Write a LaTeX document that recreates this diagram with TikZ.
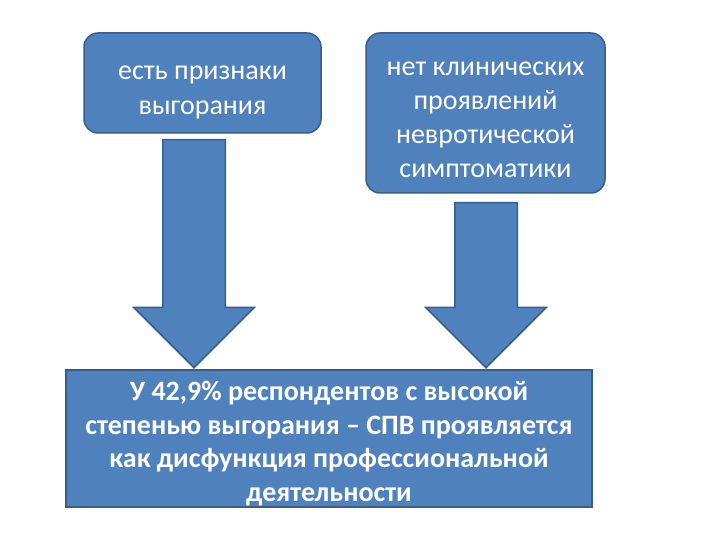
\documentclass[tikz,border=0pt]{standalone}
\usepackage{fontspec}
\setmainfont{Carlito}
\usepackage{xcolor}
\usetikzlibrary{shapes.arrows}
\definecolor{slideblue}{HTML}{4F81BD}
\definecolor{slideedge}{HTML}{385D8A}

\begin{document}
\begin{tikzpicture}[x=1pt, y=-1pt,
    sign/.style={draw=slideedge, line width=1.5pt, fill=slideblue, rounded corners=14pt, inner sep=0pt},
    outcome/.style={draw=slideedge, line width=1.5pt, fill=slideblue, inner sep=0pt},
    signtext/.style={text=white, align=center, inner sep=0pt, font=\fontsize{28}{34}\selectfont},
    outcometext/.style={text=white, align=center, inner sep=0pt, font=\bfseries\fontsize{28}{33.5}\selectfont},
    downarrow/.style={single arrow, draw=slideedge, line width=1.5pt, fill=slideblue,
        rotate=-90, anchor=tail, minimum width=119pt, single arrow head extend=29pt,
        inner xsep=0pt, inner ysep=30.5pt}]
    \useasboundingbox (0,0) rectangle (720,540);
    % top boxes
    \node[sign, minimum width=237pt, minimum height=100pt] (burnout) at (202.5,83) {};
    \node[signtext, font=\fontsize{28}{35}\selectfont, yshift=-9.5pt] (burnouttext) at (burnout.center)
        {есть признаки\\выгорания};
    \node[sign, minimum width=239pt, minimum height=160pt] (noneurosis) at (485.5,113) {};
    \node[signtext, yshift=-6.5pt] (noneurosistext) at (noneurosis.center)
        {нет клинических\\проявлений\\невротической\\симптоматики};
    % arrows down
    \node[downarrow, minimum height=228pt] (arrowL) at (194,139) {};
    \node[downarrow, minimum height=165pt] (arrowR) at (486,202) {};
    % result
    \node[outcome, minimum width=526pt, minimum height=137pt] (result) at (329,438.5) {};
    \node[outcometext, yshift=-5pt] (resulttext) at (result.center)
        {У 42,9\% респондентов с высокой\\степенью выгорания – СПВ проявляется\\как дисфункция профессиональной\\деятельности};
\end{tikzpicture}
\end{document}
